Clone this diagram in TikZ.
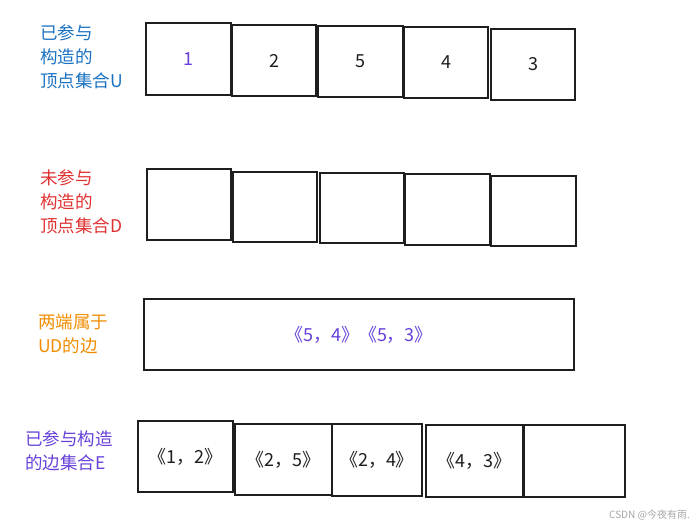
\documentclass[tikz,border=0pt]{standalone}
\usepackage{fontspec}
\setmainfont{Noto Sans CJK SC}
\definecolor{exblue}{HTML}{1971C2}
\definecolor{exred}{HTML}{E03131}
\definecolor{exorange}{HTML}{F08C00}
\definecolor{exviolet}{HTML}{6741D9}
\definecolor{exink}{HTML}{1E1E1E}
\begin{document}
\begin{tikzpicture}[x=1pt,y=-1pt,
  cell/.style={draw=exink,line width=2pt,fill=white},
  lbl/.style={anchor=north west,align=left,inner sep=0pt,font=\fontsize{17.5}{24}\selectfont},
  val/.style={font=\fontsize{18}{20}\selectfont,text=exink}]
\useasboundingbox (0,0) rectangle (698,528);
% row 1
\draw[cell] (146,23) rectangle (231,95) node[midway,val,text=exviolet] (u1) {1};
\draw[cell] (232,25) rectangle (316,96) node[midway,val] (u2) {2};
\draw[cell] (318,26) rectangle (403,97) node[midway,val] (u3) {5};
\draw[cell] (404,27) rectangle (488,98) node[midway,val] (u4) {4};
\draw[cell] (491,29) rectangle (575,100) node[midway,val] (u5) {3};
\node[lbl,text=exblue] (lu) at (40,25) {已参与\\构造的\\顶点集合U};
% row 2
\draw[cell] (147,169) rectangle (231,240) coordinate (d1);
\draw[cell] (233,172) rectangle (317,242) coordinate (d2);
\draw[cell] (320,173) rectangle (404,243) coordinate (d3);
\draw[cell] (405,174) rectangle (490,245) coordinate (d4);
\draw[cell] (491,176) rectangle (576,246) coordinate (d5);
\node[lbl,text=exred] (ld) at (40,170) {未参与\\构造的\\顶点集合D};
% row 3
\draw[cell] (144,299) rectangle (574,370) node[midway,val,text=exviolet] (ud) {《5，4》《5，3》};
\node[lbl,text=exorange] (lud) at (38,314) {两端属于\\UD的边};
% row 4
\draw[cell] (138,421) rectangle (233,492) node[midway,val] (e1) {《1，2》};
\draw[cell] (235,424) rectangle (332,495) node[midway,val] (e2) {《2，5》};
\draw[cell] (332,424) rectangle (422,496) node[midway,val] (e3) {《2，4》};
\draw[cell] (426,425) rectangle (523,497) node[midway,val] (e4) {《4，3》};
\draw[cell] (524,425) rectangle (625,497) coordinate (e5);
\node[lbl,text=exviolet] (le) at (25,431) {已参与构造\\的边集合E};
% watermark
\node[anchor=east,inner sep=0pt,text=gray!70,font=\fontsize{10}{12}\selectfont] (wm) at (690,515) {CSDN @今夜有雨.};
\end{tikzpicture}
\end{document}
